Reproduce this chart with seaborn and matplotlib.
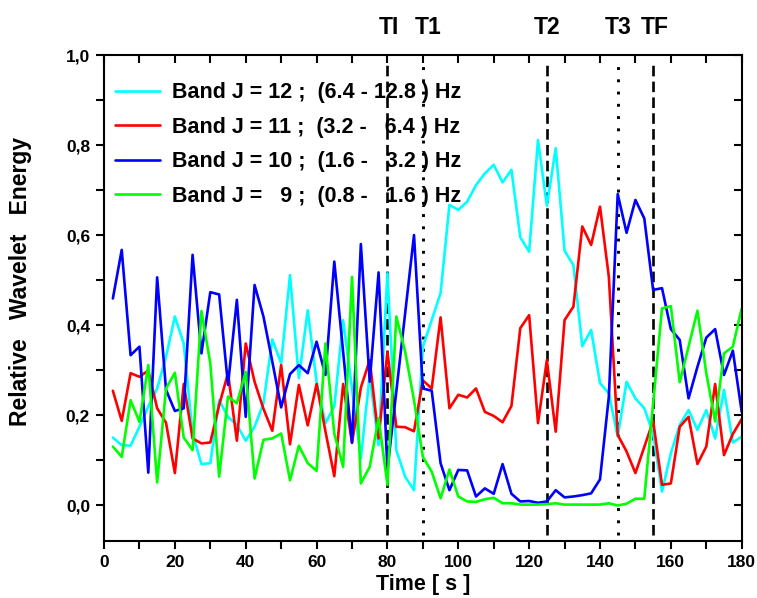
import numpy as np
import pandas as pd
import matplotlib
matplotlib.use("Agg")
import matplotlib.pyplot as plt
from matplotlib import font_manager
from matplotlib.ticker import MultipleLocator, FuncFormatter
import seaborn as sns

# Time axis: one energy value every 2.5 s
time_s = [2.5 * k for k in range(1, 73)]

band_j12 = [0.151, 0.134, 0.133, 0.175, 0.22, 0.26, 0.33, 0.42, 0.36, 0.16, 0.092, 0.094,
            0.234, 0.197, 0.179, 0.144, 0.175, 0.227, 0.369, 0.316, 0.512, 0.283, 0.434, 0.275,
            0.183, 0.22, 0.412, 0.26, 0.105, 0.29, 0.134, 0.516, 0.123, 0.064, 0.034, 0.353,
            0.412, 0.472, 0.668, 0.657, 0.675, 0.712, 0.738, 0.757, 0.718, 0.746, 0.596, 0.564,
            0.812, 0.666, 0.794, 0.566, 0.534, 0.354, 0.39, 0.272, 0.249, 0.153, 0.275, 0.238,
            0.216, 0.16, 0.031, 0.116, 0.179, 0.212, 0.168, 0.212, 0.149, 0.257, 0.14, 0.153]

band_j11 = [0.255, 0.188, 0.294, 0.286, 0.30, 0.216, 0.184, 0.072, 0.27, 0.149, 0.138, 0.14,
            0.223, 0.294, 0.144, 0.36, 0.275, 0.215, 0.166, 0.312, 0.136, 0.268, 0.178, 0.27,
            0.165, 0.065, 0.27, 0.139, 0.262, 0.323, 0.149, 0.342, 0.175, 0.174, 0.165, 0.278,
            0.26, 0.418, 0.216, 0.246, 0.24, 0.26, 0.208, 0.199, 0.185, 0.221, 0.394, 0.423,
            0.183, 0.323, 0.164, 0.412, 0.442, 0.62, 0.579, 0.664, 0.508, 0.157, 0.12, 0.072,
            0.13, 0.188, 0.046, 0.049, 0.175, 0.197, 0.092, 0.131, 0.27, 0.112, 0.159, 0.192]

band_j10 = [0.46, 0.568, 0.334, 0.353, 0.073, 0.507, 0.257, 0.21, 0.216, 0.557, 0.338, 0.474,
            0.469, 0.268, 0.457, 0.197, 0.49, 0.42, 0.32, 0.218, 0.292, 0.312, 0.294, 0.364,
            0.29, 0.542, 0.341, 0.14, 0.581, 0.275, 0.518, 0.08, 0.253, 0.427, 0.601, 0.26,
            0.255, 0.094, 0.034, 0.079, 0.078, 0.02, 0.038, 0.026, 0.092, 0.026, 0.009, 0.01,
            0.006, 0.009, 0.034, 0.018, 0.02, 0.023, 0.027, 0.058, 0.242, 0.692, 0.606, 0.679,
            0.638, 0.479, 0.483, 0.392, 0.368, 0.238, 0.308, 0.373, 0.392, 0.29, 0.344, 0.208]

band_j9 = [0.131, 0.108, 0.234, 0.186, 0.312, 0.051, 0.26, 0.295, 0.151, 0.123, 0.432, 0.316,
           0.064, 0.242, 0.227, 0.297, 0.06, 0.146, 0.149, 0.16, 0.056, 0.133, 0.094, 0.077,
           0.36, 0.16, 0.086, 0.508, 0.049, 0.086, 0.194, 0.046, 0.42, 0.342, 0.234, 0.108,
           0.075, 0.016, 0.08, 0.02, 0.009, 0.008, 0.014, 0.017, 0.005, 0.005, 0.002, 0.002,
           0.002, 0.003, 0.005, 0.002, 0.002, 0.002, 0.002, 0.002, 0.005, 0.0, 0.004, 0.015,
           0.015, 0.227, 0.438, 0.443, 0.274, 0.353, 0.433, 0.294, 0.187, 0.338, 0.353, 0.438]

band_labels = ["Band J = 12 ;  (6.4 - 12.8 ) Hz",
               "Band J = 11 ;  (3.2 -   6.4 ) Hz",
               "Band J = 10 ;  (1.6 -   3.2 ) Hz",
               "Band J =   9 ;  (0.8 -   1.6 ) Hz"]
band_colors = ["#00FFFF", "#FF0000", "#0000FF", "#00FF00"]

# Event markers
event_names = ["TI", "T1", "T2", "T3", "TF"]
event_times = [80, 90, 125, 145, 155]
event_styles = ["dashed", "dotted", "dashed", "dotted", "dashed"]
event_label_x = [80.5, 91.5, 125, 145, 155.5]

sns.set_theme(style="white", rc={"text.color": "black", "axes.labelcolor": "black",
                                 "xtick.color": "black", "ytick.color": "black",
                                 "axes.edgecolor": "black"})

available = {f.name for f in font_manager.fontManager.ttflist}
narrow = "Liberation Sans Narrow" if "Liberation Sans Narrow" in available else "Liberation Sans"
plt.rcParams["font.family"] = ["Liberation Sans", "DejaVu Sans"]

df = pd.DataFrame({
    "time": time_s * 4,
    "energy": band_j12 + band_j11 + band_j10 + band_j9,
    "band": sum([[lab] * len(time_s) for lab in band_labels], []),
})

fig = plt.figure(figsize=(7.57, 5.98), dpi=100)
ax = fig.add_axes([0.1374, 0.0945, 0.8424, 0.8127])

sns.lineplot(data=df, x="time", y="energy", hue="band", hue_order=band_labels,
             palette=band_colors, linewidth=1.9, ax=ax, sort=False)

ax.set_xlim(0, 180)
ax.set_ylim(-0.08, 1.0)

dash_patterns = {"dashed": (0, (4, 2)), "dotted": (0, (1, 3.2))}
for t, style, name, lx in zip(event_times, event_styles, event_names, event_label_x):
    lw = 1.9 if style == "dashed" else 2.1
    ax.vlines(t, -0.065, 0.99, colors="black", linestyles=[dash_patterns[style]],
              linewidth=lw, zorder=1)
    ax.text(lx, 1.063, name, ha="center", va="center", fontsize=16.5,
            fontweight="bold", family=[narrow, "DejaVu Sans"], color="black")

# Axes styling
for side in ["left", "right", "top", "bottom"]:
    ax.spines[side].set_visible(True)
    ax.spines[side].set_color("black")
    ax.spines[side].set_linewidth(1.5)

ax.xaxis.set_major_locator(MultipleLocator(20))
ax.xaxis.set_minor_locator(MultipleLocator(10))
ax.set_yticks(np.arange(0, 1.01, 0.2))
ax.set_yticks(np.arange(0.1, 1.0, 0.2), minor=True)
ax.yaxis.set_major_formatter(FuncFormatter(lambda v, p: f"{v:.1f}".replace(".", ",")))

ax.tick_params(axis="both", which="both", direction="out", color="black", width=1.5,
               labelsize=12.5, labelcolor="black", bottom=True, left=True)
ax.tick_params(axis="both", which="major", length=6, pad=4)
ax.tick_params(axis="both", which="minor", length=6)
for lab in ax.get_xticklabels() + ax.get_yticklabels():
    lab.set_fontweight("bold")
    lab.set_family([narrow, "DejaVu Sans"])

top = ax.secondary_xaxis("top")
top.xaxis.set_major_locator(MultipleLocator(10))
top.tick_params(direction="in", length=6, width=1.5, color="black", labelsize=0)
top.set_xticklabels([])
right = ax.secondary_yaxis("right")
right.set_yticks(np.arange(0, 1.01, 0.1))
right.tick_params(direction="in", length=6, width=1.5, color="black", labelsize=0)
right.set_yticklabels([])

ax.set_xlabel("Time [ s ]", fontsize=15.5, fontweight="bold", family=[narrow, "DejaVu Sans"])
ax.set_ylabel("Relative   Wavelet   Energy", fontsize=16.5, fontweight="bold")
ax.xaxis.set_label_coords(0.5, -0.066)
ax.yaxis.set_label_coords(-0.113, 0.535)

leg = ax.legend(loc="upper left", bbox_to_anchor=(-0.013, 0.985), frameon=False,
                handlelength=2.1, handletextpad=0.55, labelspacing=0.63,
                prop={"weight": "bold", "size": 15.5})
for line in leg.get_lines():
    line.set_linewidth(1.9)

fig.savefig("out.png", dpi=100)
